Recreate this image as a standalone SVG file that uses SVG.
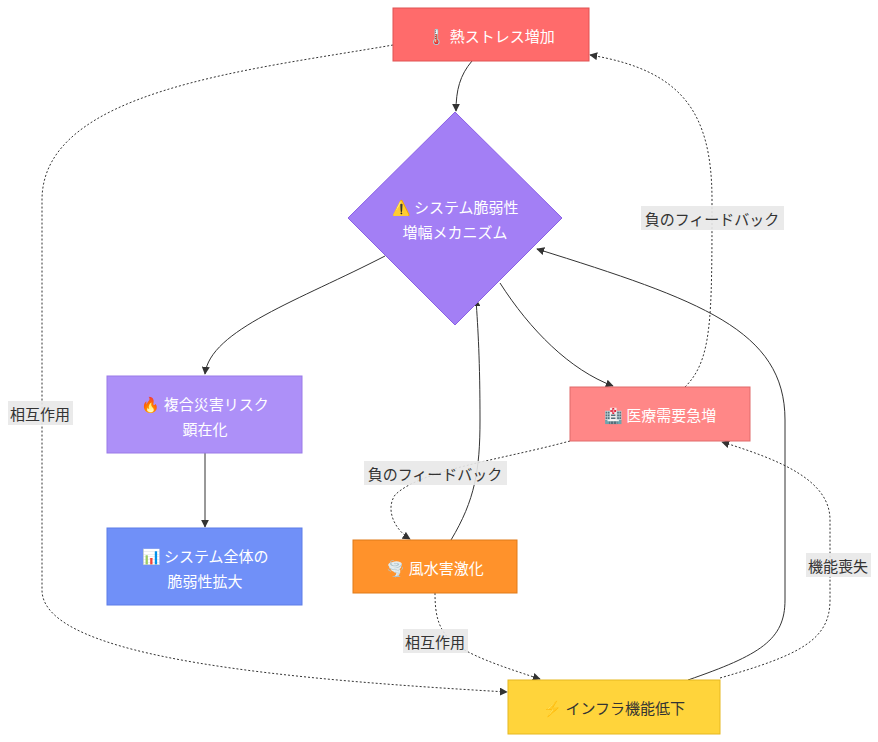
<svg xmlns="http://www.w3.org/2000/svg" width="878" height="742" viewBox="0 0 878 742">
<defs>
<marker id="ar" viewBox="0 0 10 10" refX="9" refY="5" markerWidth="8" markerHeight="8" orient="auto-start-reverse"><path d="M0,0L10,5L0,10z" fill="#333"/></marker>
<style>
text{font-family:"Noto Sans CJK JP","Liberation Sans",sans-serif;font-size:15px;text-anchor:middle;dominant-baseline:central}
.w{fill:#fff}
.e{fill:none;stroke:#333;stroke-width:1;marker-end:url(#ar)}
.d{stroke-dasharray:2,2}
.lb{fill:#e8e8e8;opacity:0.9}
.lt{fill:#333}
</style>
</defs>
<rect width="878" height="742" fill="#fff"/>
<g id="connectors">
<path class="e" d="M472,61 C460,75 456,90 456,111"/>
<path class="e" d="M385,256 C300,300 210,330 205,374"/>
<path class="e" d="M500,283 C530,330 570,370 613,386"/>
<path class="e d" d="M685,387 C712,360 712,320 712,200 C712,110 680,70 590,55"/>
<path class="e d" d="M570,441 C500,460 420,470 395,495 C385,510 395,530 410,539"/>
<path class="e" d="M451,540 C475,500 480,470 480,420 C480,360 478,330 476,299"/>
<path class="e" d="M205,453 L205,527"/>
<path class="e d" d="M393,45 C250,70 42,90 42,200 L42,590 C42,660 300,680 507,692"/>
<path class="e d" d="M435,593 C435,640 450,650 540,679"/>
<path class="e" d="M688,680 C760,655 785,640 785,600 L785,420 C785,330 700,300 537,249"/>
<path class="e d" d="M720,678 C800,655 830,640 830,600 L830,520 C830,480 780,460 722,442"/>
<rect class="lb" x="641" y="206" width="143" height="24"/><text class="lt" x="712" y="218">負のフィードバック</text>
<rect class="lb" x="364" y="461" width="143" height="24"/><text class="lt" x="435" y="473">負のフィードバック</text>
<rect class="lb" x="8" y="401" width="65" height="24"/><text class="lt" x="40" y="413">相互作用</text>
<rect class="lb" x="403" y="629" width="65" height="24"/><text class="lt" x="435" y="641">相互作用</text>
<rect class="lb" x="806" y="553" width="65" height="24"/><text class="lt" x="838" y="565">機能喪失</text>
</g>
<g id="heat"><rect x="393" y="8" width="196" height="53" fill="#ff6b6b" stroke="#e05252"/><text class="w" x="491" y="35">🌡️ 熱ストレス増加</text></g>
<g id="mech"><path d="M455,112 L562,218 L455,325 L348,218Z" fill="#a37ff5" stroke="#8a60e6"/><text class="w" x="455" y="206">⚠️ システム脆弱性</text><text class="w" x="455" y="231">増幅メカニズム</text></g>
<g id="multi"><rect x="107" y="376" width="195" height="77" fill="#ad90f8" stroke="#9a7ae8"/><text class="w" x="205" y="403">🔥 複合災害リスク</text><text class="w" x="205" y="428">顕在化</text></g>
<g id="sys"><rect x="107" y="528" width="195" height="77" fill="#7090f8" stroke="#5c7ce8"/><text class="w" x="205" y="555">📊 システム全体の</text><text class="w" x="205" y="580">脆弱性拡大</text></g>
<g id="med"><rect x="570" y="387" width="180" height="54" fill="#ff8787" stroke="#e06a6a"/><text class="w" x="660" y="414">🏥 医療需要急増</text></g>
<g id="storm"><rect x="353" y="540" width="164" height="53" fill="#ff922b" stroke="#e07a18"/><text class="w" x="435" y="567">🌪️ 風水害激化</text></g>
<g id="infra"><rect x="508" y="680" width="212" height="54" fill="#ffd43b" stroke="#e6b820"/><text x="614" y="707" fill="#333">⚡ インフラ機能低下</text></g>
</svg>
